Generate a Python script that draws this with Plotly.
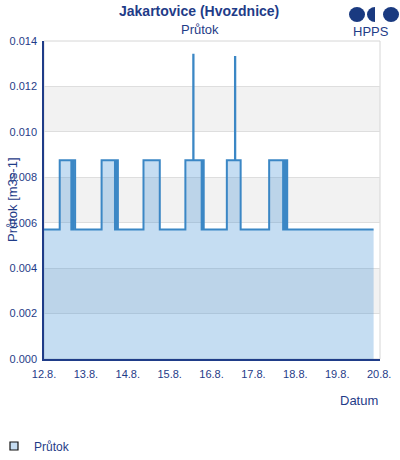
import plotly.graph_objects as go

# --- data -----------------------------------------------------------------
times = [
    "2024-08-12 00:00", "2024-08-12 09:00", "2024-08-12 15:40", "2024-08-12 16:40",
    "2024-08-12 17:50", "2024-08-13 09:00", "2024-08-13 16:40", "2024-08-13 17:20",
    "2024-08-13 17:40", "2024-08-13 18:10", "2024-08-13 18:20", "2024-08-14 09:00",
    "2024-08-14 18:20", "2024-08-15 09:00", "2024-08-15 13:30", "2024-08-15 13:40",
    "2024-08-15 18:20", "2024-08-15 18:50", "2024-08-15 19:30", "2024-08-16 08:45",
    "2024-08-16 13:25", "2024-08-16 13:35", "2024-08-16 16:40", "2024-08-17 09:00",
    "2024-08-17 17:00", "2024-08-17 17:40", "2024-08-17 18:20", "2024-08-17 18:50",
    "2024-08-17 19:20", "2024-08-19 20:50",
]
prutok = [
    0.0057, 0.00875, 0.0057, 0.00875,
    0.0057, 0.00875, 0.0057, 0.00875,
    0.0057, 0.00875, 0.0057, 0.00875,
    0.0057, 0.00875, 0.0134, 0.00875,
    0.0057, 0.00875, 0.0057, 0.00875,
    0.0133, 0.00875, 0.0057, 0.00875,
    0.0057, 0.00875, 0.0057, 0.00875,
    0.0057, 0.0057,
]
y_ticks = [0.000, 0.002, 0.004, 0.006, 0.008, 0.010, 0.012, 0.014]
x_ticks = ["2024-08-%02d" % d for d in range(12, 21)]
x_labels = ["%d.8." % d for d in range(12, 21)]

# --- layout helpers -------------------------------------------------------
W, H = 400, 460
L, R, T, B = 44, 20, 41, 101
NAVY = "#1f3c88"
FONT = "Liberation Sans, Arial, sans-serif"


def px(x):
    return (x - L) / (W - L - R)


def py(y):
    return (H - B - y) / (H - T - B)


fig = go.Figure()

fig.add_trace(go.Scatter(
    x=times, y=prutok,
    mode="lines",
    line=dict(color="#3b87c5", width=2, shape="hv"),
    fill="tozeroy",
    fillcolor="rgba(76,148,214,0.32)",
    showlegend=False,
    hoverinfo="skip",
))

# legend entry (square swatch)
fig.add_trace(go.Scatter(
    x=[None], y=[None], mode="markers", name="Průtok",
    marker=dict(symbol="square", size=8, color="#c6ddf2",
                line=dict(color="#111111", width=1.2)),
))

# alternating horizontal bands
shapes = []
for i in range(1, len(y_ticks) - 1, 2):
    shapes.append(dict(type="rect", xref="paper", yref="y", x0=0, x1=1,
                       y0=y_ticks[i], y1=y_ticks[i + 1],
                       fillcolor="#f2f2f2", line_width=0, layer="below"))
# plot border
shapes.append(dict(type="rect", xref="paper", yref="paper", x0=0, x1=1, y0=0, y1=1,
                   line=dict(color="#d6d6d6", width=1), layer="below"))
# HPPS logo
shapes.append(dict(type="circle", xref="paper", yref="paper",
                   x0=px(349), x1=px(365), y0=py(22), y1=py(7),
                   fillcolor="#1a3a80", line_width=0))
shapes.append(dict(type="circle", xref="paper", yref="paper",
                   x0=px(367), x1=px(383), y0=py(22), y1=py(7),
                   fillcolor="#1a3a80", line_width=0))
shapes.append(dict(type="rect", xref="paper", yref="paper",
                   x0=px(375), x1=px(383.5), y0=py(22.5), y1=py(6.5),
                   fillcolor="white", line_width=0))
shapes.append(dict(type="circle", xref="paper", yref="paper",
                   x0=px(383), x1=px(399), y0=py(22), y1=py(7),
                   fillcolor="#1a3a80", line_width=0))

annotations = [
    dict(text="<b>Jakartovice (Hvozdnice)</b>", x=px(199), y=py(11),
         font=dict(size=14, color=NAVY)),
    dict(text="Průtok", x=px(200), y=py(29), font=dict(size=13, color=NAVY)),
    dict(text="HPPS", x=px(371), y=py(31), font=dict(size=13, color=NAVY)),
    dict(text="Průtok [m3s-1]", x=px(12), y=py(200), textangle=-90,
         font=dict(size=13, color=NAVY)),
    dict(text="Datum", x=px(359), y=py(400), font=dict(size=13, color=NAVY)),
]
for a in annotations:
    a.update(xref="paper", yref="paper", showarrow=False,
             xanchor="center", yanchor="middle")

fig.update_layout(
    width=W, height=H,
    margin=dict(l=L, r=R, t=T, b=B, pad=0, autoexpand=False),
    paper_bgcolor="white", plot_bgcolor="rgba(0,0,0,0)",
    font=dict(family=FONT, color=NAVY),
    shapes=shapes,
    annotations=annotations,
    showlegend=True,
    legend=dict(orientation="h", x=px(0), y=py(446), xanchor="left", yanchor="middle",
                font=dict(size=12, color=NAVY), bgcolor="rgba(0,0,0,0)",
                itemwidth=30, indentation=-6),
    xaxis=dict(
        type="date", range=["2024-08-12 00:00", "2024-08-20 00:30"],
        tickvals=x_ticks, ticktext=x_labels,
        showgrid=False, zeroline=False, automargin=False,
        showline=True, linecolor=NAVY, linewidth=1.5,
        ticks="", tickfont=dict(size=11, color=NAVY),
        ticklabelstandoff=4,
    ),
    yaxis=dict(
        range=[0, 0.014], tickvals=y_ticks, tickformat=".3f",
        showgrid=True, gridcolor="#dedede", gridwidth=1, zeroline=False,
        automargin=False,
        showline=True, linecolor=NAVY, linewidth=1.5,
        ticks="", tickfont=dict(size=11, color=NAVY),
        ticklabelstandoff=3,
    ),
)

fig.write_html("out.html", config={"displayModeBar": False},
               post_script="document.body.style.margin='0px';")
